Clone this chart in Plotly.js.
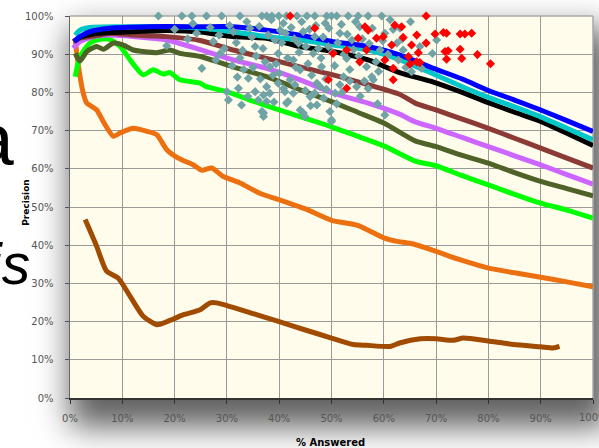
<!DOCTYPE html>
<html><head><meta charset="utf-8">
<script src="https://cdn.plot.ly/plotly-3.0.1.min.js"></script>
<style>
html,body{margin:0;padding:0;background:#fff;overflow:hidden;}
#wrap{position:relative;width:599px;height:448px;overflow:hidden;}
#shadow{position:absolute;left:70px;top:16px;width:523px;height:383px;background:#FFFCEC;box-shadow:8px 20px 30px 8px rgba(0,0,0,0.62);}
#chart{position:absolute;left:0;top:0;width:599px;height:448px;}
</style></head>
<body><div id="wrap"><div id="shadow"></div><div id="chart"></div></div>
<script>
// ---- data (percent) ----
const blueX  = [0.8,1.9,3.8,7.6,15,25,31,37.6,44,50.3,57,63,69.5,75,80,85,90,95,100];
const blueY  = [93.3,94.6,95.9,96.8,97.2,97.2,97.2,96.3,95,93.3,92,89.8,86.3,83.5,80.5,78,75.4,72.6,69.8];
const cyanX  = [1,1.9,3.8,10,20,25,31,37.6,44,50.3,57,63,69.5,75,80,85,90,95,100];
const cyanY  = [95,96.3,97,97.2,97.2,96.8,95.9,94.6,93.7,92.4,91.1,88.6,84.8,81.5,78.7,76.2,73.6,70.6,67.6];
const blackX = [1,2,5.7,12,18.5,25,31,37.6,44,50.3,57,63,69.5,75,80,85,90,95,100];
const blackY = [93.5,94.5,95.5,95.9,96.2,95.8,94.6,94.2,92,90.7,88.5,85.2,82.7,80,77.3,74.8,72.4,69.3,66.1];
const maroonX = [0.6,1.9,5.7,7.6,12.1,18.5,24.9,31.2,37.6,44,50.3,57,63,66,70,75,80,85,90,95,100];
const maroonY = [93.3,94.2,95,95.5,95,94.6,93.6,91.1,88.9,86.7,84.6,82,79.5,77.2,75.4,73,70.6,68,65.4,62.8,60.2];
const violetX = [0.6,1.9,4.5,7.6,12.1,18.5,24.9,31.2,37.6,44,50.3,57,63,66,70,75,80,85,90,95,100];
const violetY = [91.6,93.3,94.6,95,94.6,93.7,91.2,88.5,86.3,83.3,79.8,77.2,74.3,72.3,70.6,68.2,65.8,63.4,61,58.5,56];
const oliveX = [1,1.9,3.2,5.1,6.4,8.3,10.2,12.1,14,16.6,19.1,21,24.9,31.2,37.6,44,50,55,60,66,70,75,80,85,90,95,100];
const oliveY = [90.2,88.2,90.7,92,91.3,92.9,92.4,91.1,90.7,90.4,91.1,90.2,89.4,86.7,84.1,80.7,77.6,74.8,72,67.3,65.8,63.5,61.5,59,56.7,54.8,52.9];
const greenX = [1,1.9,3.8,5.7,7.6,9.6,11.5,14,15.9,17.8,19.1,21,24.9,26.1,30,34.4,40,45,50,55,60,66,70,75,80,85,90,95,100];
const greenY = [84.1,89.3,92.9,93.9,93.9,92,88.5,84.6,85.9,84.8,85.2,83.3,82.4,81.5,80.2,78,75.4,73.2,71,68.5,66,62,60.8,58.2,55.8,53.3,51,49.2,47.1];
const orangeX = [1,1.5,2.5,3.2,5.1,6.5,8.3,9.6,12.1,14.7,16.6,18.5,20.7,23.6,25.2,27.1,29.3,32.5,36.3,40,45,50,55,60,62.5,65,70,72.6,75,80,85,90,95,100];
const orangeY = [94,88,80,77.2,75.4,72,68.5,69.4,70.6,69.8,68.9,65,62.8,61,59.6,60.2,58,56.3,53.6,51.9,49.5,46.5,45.2,41.9,41,40.5,38.4,37.1,36,34,32.8,31.6,30.4,29.1];
const brownX = [2.9,5.1,7,9.2,11.5,14,16.6,19.1,21.7,24.9,26.8,28,30,35,40,45,50,54.2,56.7,61.2,63,67,70,73.3,75.2,80,84.8,90,92.4,93.6];
const brownY = [46.7,39.7,33.2,31.4,26.6,21.4,19.2,20.3,21.8,23.1,24.9,24.9,24.2,22.1,20,17.8,15.7,14,13.8,13.5,14.4,15.5,15.5,15.1,15.7,14.9,14,13.4,13.1,13.5];

const tealX = [16.9,21.4,23.3,26.1,29.0,32.5,36.7,37.6,38.6,39.9,41.4,43.4,45.3,46.8,49.1,50,51,53.2,55.1,57,59.6,
 24.2,18.5,25.2,27.4,30,30.3,28.7,31.2,32.2,32.8,34.1,34.4,35.4,36.7,37,36,37.6,38.2,39.2,39.8,40.2,40.8,41.1,41.7,42.1,42.7,43.7,44,44.6,44.9,45.9,46.5,46.8,47.2,48.1,48.8,49.4,50,50.7,51.6,52.3,52.9,53.9,54.8,55.4,56.7,57.7,59.3,60.2,61.2,62.5,
 35.4,37,37,38.2,37.6,39.8,41.4,42.7,44,44.6,47.2,46.8,49.7,50,51.6,47.8,60.2,58,
 65.1,63.1,66.9,70.1,69.3,65.3,67.2,63.7,
 30.5,31.8,32.5,33.2,33.8,34.8,35.6,36.2,36.9,37.3,37.9,38.5,38.8,39.4,40.5,41.2,41.6,42.3,42.9,43.2,43.8,44.3,45.1,45.5,45.8,46.2,47,47.5,48,48.4,48.9,49.5,50.2,50.6,51.2,51.9,52.4,53,53.5,54.2,54.6,55.2,55.9,56.3,57.2,57.8,58.5,59,59.8,60.8,61.8,62.8,63.5,64.2,
 26.8,27.9,28.5,29.5,31,32,33,34,35,36.4,39,40,40.8,43,45,46,48.5,49,51,52,53.5,55.5,57,58.8,20,22.5,23.5];
const tealY = [100,100,100,100,100,100,100,100,100,100,100,100,100,100,100,100,100,100,100,100,100,
 95.5,92.2,86.3,93.3,80.2,78,90.2,95.9,81.1,76.7,83.7,96.8,92,75,73.7,78,81.5,86.7,93.7,90.2,96.3,98.1,80.2,77.6,83.3,88.5,92.9,85.9,95.9,73.7,78.9,90.2,94.6,82.4,86.7,98.1,92,72.8,79.8,95.5,84.1,88.9,93.7,81.5,97.2,86.7,84.1,91.1,95.5,99,92.9,
 80.2,79.3,74.6,79.8,77.6,82.4,77.2,79.8,75.4,74.6,76.7,79.8,75,72.4,82,81.5,74.1,83.3,
 98.5,96.8,92,93.7,90.2,85.4,86.3,91.1,
 97.5,93,89,86,98.5,94.5,89.5,97.3,91.5,88,95,99,84.5,87.5,93,95.5,89,97,94,86.5,90.5,98.5,92,87.5,96.5,84.5,97.5,91.5,89,94.5,83.5,96.8,90.5,87,93,97.8,90,95.2,86,91.2,98.5,89.5,94,83,92.8,96.8,88,85.5,93.5,90,96.5,88.5,94,86.5,
 97,88.5,95,91.5,87,84,91,79,86.5,83.5,77.5,85,81,82,80.5,76.5,78.5,80.8,77,80,83,79,81,77,96.5,94,98];

const redX = [42.1,46.8,50.3,49.4,52.9,52.9,55.1,55.4,56.7,56.4,57,58.6,59.9,60.2,61.5,61.8,61.8,62.1,
 68.1,63.4,66.3,69.8,71.4,72,74.6,75.5,76.8,63.7,65.3,68.1,66.6,64.7,71.7,72.3,74.6,72,74.9,77.9,80.4,66.3,65,66.9];
const redY = [100,96.8,90.2,83.3,91.1,81.1,94.2,88,91.1,97.2,96.3,94.2,94.6,88.5,92.4,86.3,83.3,97.6,
 100,97.2,95,95.3,95.7,95.5,95.3,95.3,95.5,94.4,92.4,92.9,90.4,89.4,90.7,90.9,91.3,88.7,88.9,89.9,87.5,88,87.4,87.8];

const tickVals = [0,10,20,30,40,50,60,70,80,90,100];
const tickText = ['0%','10%','20%','30%','40%','50%','60%','70%','80%','90%','100%'];

// ---- traces ----
function line(x, y, color){
  return {x:x, y:y, type:'scatter', mode:'lines', line:{color:color, width:5, shape:'spline', smoothing:0.6}, hoverinfo:'skip'};
}
const traces = [
  line(brownX, brownY, '#A04B00'),
  line(orangeX, orangeY, '#EC7010'),
  line(greenX, greenY, '#00FF00'),
  line(oliveX, oliveY, '#4F6228'),
  line(violetX, violetY, '#CC66FF'),
  line(maroonX, maroonY, '#8B3A36'),
  line(blackX, blackY, '#000000'),
  line(cyanX, cyanY, '#00C8C8'),
  line(blueX, blueY, '#0000FF'),
  {x:tealX, y:tealY, type:'scatter', mode:'markers', cliponaxis:false,
   marker:{symbol:'diamond', size:7, color:'#6FA3A6'}},
  {x:redX, y:redY, type:'scatter', mode:'markers', cliponaxis:false,
   marker:{symbol:'diamond', size:7, color:'#FF0000'}}
];

const axisFont = {family:'DejaVu Sans', size:10, color:'#555555'};
const layout = {
  width:599, height:448,
  margin:{l:70, r:6, t:16, b:50, pad:0},
  paper_bgcolor:'rgba(0,0,0,0)',
  plot_bgcolor:'#FFFCEC',
  showlegend:false,
  xaxis:{range:[0,100], tickvals:tickVals, ticktext:tickText, showgrid:true, gridcolor:'#9A9A9A', gridwidth:1,
    ticks:'outside', ticklen:4, tickcolor:'#333', showline:true, linecolor:'#333', linewidth:1.5,
    zeroline:false, tickfont:axisFont, ticklabelstandoff:6, fixedrange:true},
  yaxis:{range:[0,100], tickvals:tickVals, ticktext:tickText, showgrid:true, gridcolor:'#9A9A9A', gridwidth:1,
    ticks:'outside', ticklen:4, tickcolor:'#555', showline:true, linecolor:'#666', linewidth:1.5,
    zeroline:false, tickfont:axisFont, ticklabelstandoff:9, fixedrange:true},
  shapes:[
    {type:'line', xref:'paper', yref:'paper', x0:0, x1:1, y0:1, y1:1, line:{color:'#A8A8A8', width:1.5}, layer:'below'},
    {type:'line', xref:'paper', yref:'paper', x0:1, x1:1, y0:0, y1:1, line:{color:'#A8A8A8', width:1.5}, layer:'below'}
  ],
  annotations:[
    {text:'100%', xref:'x', yref:'paper', x:100, y:-0.0515, xanchor:'center', yanchor:'middle', showarrow:false,
     font:axisFont},
    {text:'<b>% Answered</b>', xref:'paper', yref:'paper', x:0.499, y:-0.1163, xanchor:'center', yanchor:'middle', showarrow:false,
     font:{family:'DejaVu Sans', size:10, color:'#000'}},
    {text:'<b>Precision</b>', xref:'paper', yref:'paper', x:-0.0841, y:0.511, xanchor:'center', yanchor:'middle', textangle:-90, showarrow:false,
     font:{family:'DejaVu Sans', size:9, color:'#000'}},
    {text:'a', xref:'paper', yref:'paper', x:-0.1033, y:0.678, xanchor:'right', yanchor:'middle', showarrow:false,
     font:{family:'Liberation Sans', size:75, color:'#000'}},
    {text:'<i>is</i>', xref:'paper', yref:'paper', x:-0.0725, y:0.352, xanchor:'right', yanchor:'middle', showarrow:false,
     font:{family:'Liberation Sans', size:57, color:'#000'}}
  ]
};
Plotly.newPlot('chart', traces, layout, {displayModeBar:false, staticPlot:true});
</script></body></html>
